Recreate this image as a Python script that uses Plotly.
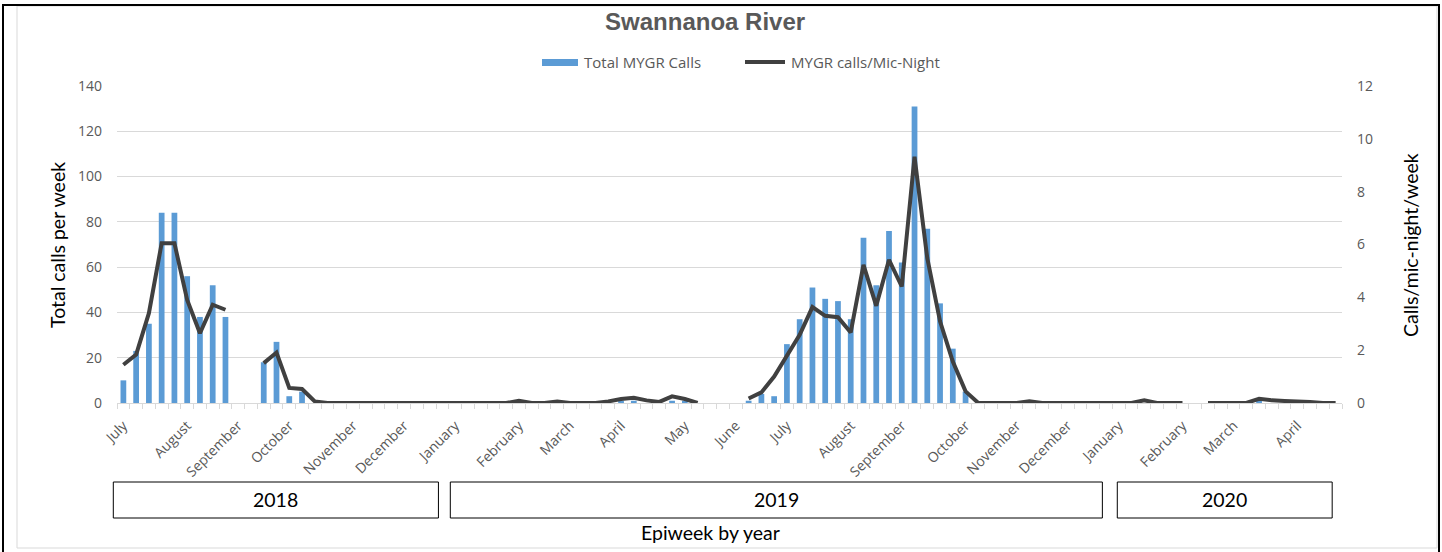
import plotly.graph_objects as go

# ---------------- data ----------------
weeks = ([f"2018-W{w:02d}" for w in range(27, 53)] +
         [f"2019-W{w:02d}" for w in range(1, 53)] +
         [f"2020-W{w:02d}" for w in range(1, 19)])

total_calls = [
    10, 23, 35, 84, 84, 56, 38, 52, 38, None,            # 2018 W27-W36
    None, 18, 27, 3, 5, 0, 0, 0, 0, 0,                    # W37-W46
    0, 0, 0, 0, 0, 0,                                     # W47-W52
    0, 0, 0, 0, 0, 0, 0, 0, 0, 0,                         # 2019 W01-W10
    0, 0, 0, 1, 1, 0, 0, 1, 1, 0,                         # W11-W20
    None, None, None, 1, 4, 3, 26, 37, 51, 46,            # W21-W30
    45, 37, 73, 52, 76, 62, 131, 77, 44, 24,              # W31-W40
    5, 0, 0, 0, 0, 0, 0, 0, 0, 0,                         # W41-W50
    0, 0,                                                 # W51-W52
    0, 0, 0, 0, 0, 0, None, 0, 0, 0,                      # 2020 W01-W10
    0, 1, 0, 0, 0, 0, 0, 0,                               # W11-W18
]

calls_per_mic_night = [
    1.45, 1.83, 3.4, 6.05, 6.05, 3.9, 2.64, 3.72, 3.53, None,
    None, 1.51, 1.91, 0.57, 0.53, 0.06, 0, 0, 0, 0,
    0, 0, 0, 0, 0, 0,
    0, 0, 0, 0, 0, 0.08, 0, 0, 0.06, 0,
    0, 0, 0.06, 0.15, 0.2, 0.1, 0.04, 0.25, 0.15, 0,
    None, None, None, 0.17, 0.4, 1.0, 1.76, 2.58, 3.63, 3.3,
    3.25, 2.67, 5.23, 3.68, 5.42, 4.41, 9.32, 5.48, 3.09, 1.57,
    0.44, 0, 0, 0, 0, 0.07, 0, 0, 0, 0,
    0, 0,
    0, 0, 0.1, 0, 0, 0, None, 0, 0, 0,
    0, 0.16, 0.1, 0.08, 0.07, 0.04, 0, 0,
]

month_tick_weeks = ["2018-W27", "2018-W32", "2018-W36", "2018-W40", "2018-W45", "2018-W49",
                    "2019-W01", "2019-W06", "2019-W10", "2019-W14", "2019-W19", "2019-W23",
                    "2019-W27", "2019-W32", "2019-W36", "2019-W41", "2019-W45", "2019-W49",
                    "2020-W01", "2020-W06", "2020-W10", "2020-W15"]
month_tick_labels = ["July", "August", "September", "October", "November", "December",
                     "January", "February", "March", "April", "May", "June",
                     "July", "August", "September", "October", "November", "December",
                     "January", "February", "March", "April"]

years = ["2018", "2019", "2020"]

# ---------------- layout helpers ----------------
W, H = 1442, 552
L, R, T, B = 117, 100, 86, 149
pw, ph = W - L - R, H - T - B
N = len(weeks)


def px(x):
    return (x - L) / pw


def py(y):
    return (H - B - y) / ph


def cat2paper(c):
    return (c + 0.5) / N


x_idx = list(range(N))
tickvals = [weeks.index(w) for w in month_tick_weeks]

TICK_FONT = dict(family="Open Sans", size=14, color="#595959")
TITLE_FONT = dict(family="Lato", size=19.5, color="#000000")

fig = go.Figure()
fig.add_trace(go.Bar(x=x_idx, y=total_calls, name="Total MYGR Calls",
                     marker=dict(color="#5b9bd5", line=dict(width=0)),
                     width=0.45, yaxis="y"))
fig.add_trace(go.Scatter(x=x_idx, y=calls_per_mic_night, name="MYGR calls/Mic-Night",
                         mode="lines", line=dict(color="#404040", width=4),
                         connectgaps=False, yaxis="y2"))

fig.update_layout(
    width=W, height=H,
    margin=dict(l=L, r=R, t=T, b=B),
    paper_bgcolor="white", plot_bgcolor="white",
    showlegend=False,
    title=dict(text="<b>Swannanoa River</b>", x=px(716), xanchor="center", y=1 - 22 / H,
               yanchor="middle",
               font=dict(family="Liberation Sans", size=24, color="#595959")),
    xaxis=dict(range=[-0.5, N - 0.5], tickmode="array", tickvals=tickvals,
               ticktext=month_tick_labels, tickangle=-45, tickfont=TICK_FONT,
               ticks="", showgrid=False, zeroline=False, ticklabelstandoff=8,
               showline=True, linecolor="#d9d9d9", linewidth=1,
               minor=dict(tick0=-0.5, dtick=1, ticks="outside", ticklen=5,
                          tickcolor="#d9d9d9", tickwidth=1, showgrid=False)),
    yaxis=dict(range=[0, 140], dtick=20, tickfont=TICK_FONT, showgrid=True,
               gridcolor="#d9d9d9", gridwidth=1, zeroline=False, ticks="",
               ticklabelstandoff=14),
    yaxis2=dict(range=[0, 12], dtick=2, overlaying="y", side="right", tickfont=TICK_FONT,
                showgrid=False, zeroline=False, ticks="", ticklabelstandoff=14),
    bargap=0.55,
)

shapes = []
annotations = []

# outer frames
shapes.append(dict(type="rect", xref="paper", yref="paper",
                   x0=px(17), x1=px(1437), y0=py(548), y1=py(6),
                   line=dict(color="#d9d9d9", width=1), fillcolor="rgba(0,0,0,0)", layer="below"))
shapes.append(dict(type="rect", xref="paper", yref="paper",
                   x0=px(3), x1=px(1439), y0=py(575), y1=py(5),
                   line=dict(color="#000000", width=2), fillcolor="rgba(0,0,0,0)"))

# custom legend
shapes.append(dict(type="rect", xref="paper", yref="paper",
                   x0=px(542), x1=px(578), y0=py(66), y1=py(59),
                   line=dict(width=0), fillcolor="#5b9bd5"))
annotations.append(dict(text="Total MYGR Calls", xref="paper", yref="paper",
                        x=px(582), y=py(62), xanchor="left", yanchor="middle", showarrow=False,
                        font=dict(family="Open Sans", size=15, color="#595959")))
shapes.append(dict(type="line", xref="paper", yref="paper",
                   x0=px(745), x1=px(785), y0=py(62), y1=py(62),
                   line=dict(color="#404040", width=4)))
annotations.append(dict(text="MYGR calls/Mic-Night", xref="paper", yref="paper",
                        x=px(789), y=py(62), xanchor="left", yanchor="middle", showarrow=False,
                        font=dict(family="Open Sans", size=15, color="#595959")))

# year boxes
box_offsets = {"2018": (-0.79, -0.31), "2019": (-0.38, -0.28), "2020": (-0.11, -0.27)}
for yr in years:
    idx = [i for i, w in enumerate(weeks) if w.startswith(yr)]
    a, b = box_offsets[yr]
    x0, x1 = cat2paper(idx[0] + a), cat2paper(idx[-1] + b)
    shapes.append(dict(type="rect", xref="paper", yref="paper", x0=x0, x1=x1,
                       y0=py(518), y1=py(482), line=dict(color="#000000", width=1),
                       fillcolor="rgba(0,0,0,0)"))
    annotations.append(dict(text=yr, xref="paper", yref="paper", x=(x0 + x1) / 2, y=py(500),
                            xanchor="center", yanchor="middle", showarrow=False,
                            font=dict(family="Lato", size=19.5, color="#000000")))

# axis titles
annotations.append(dict(text="Total calls per week", xref="paper", yref="paper",
                        x=px(57), y=py(245), textangle=-90, xanchor="center", yanchor="middle",
                        showarrow=False, font=TITLE_FONT))
annotations.append(dict(text="Calls/mic-night/week", xref="paper", yref="paper",
                        x=px(1410), y=py(245), textangle=-90, xanchor="center", yanchor="middle",
                        showarrow=False, font=TITLE_FONT))
annotations.append(dict(text="Epiweek by year", xref="paper", yref="paper",
                        x=px(710), y=py(532), xanchor="center", yanchor="middle",
                        showarrow=False, font=TITLE_FONT))

fig.update_layout(shapes=shapes, annotations=annotations)
fig.write_html("out.html", config={"displayModeBar": False},
               post_script="document.body.style.margin='0';")
